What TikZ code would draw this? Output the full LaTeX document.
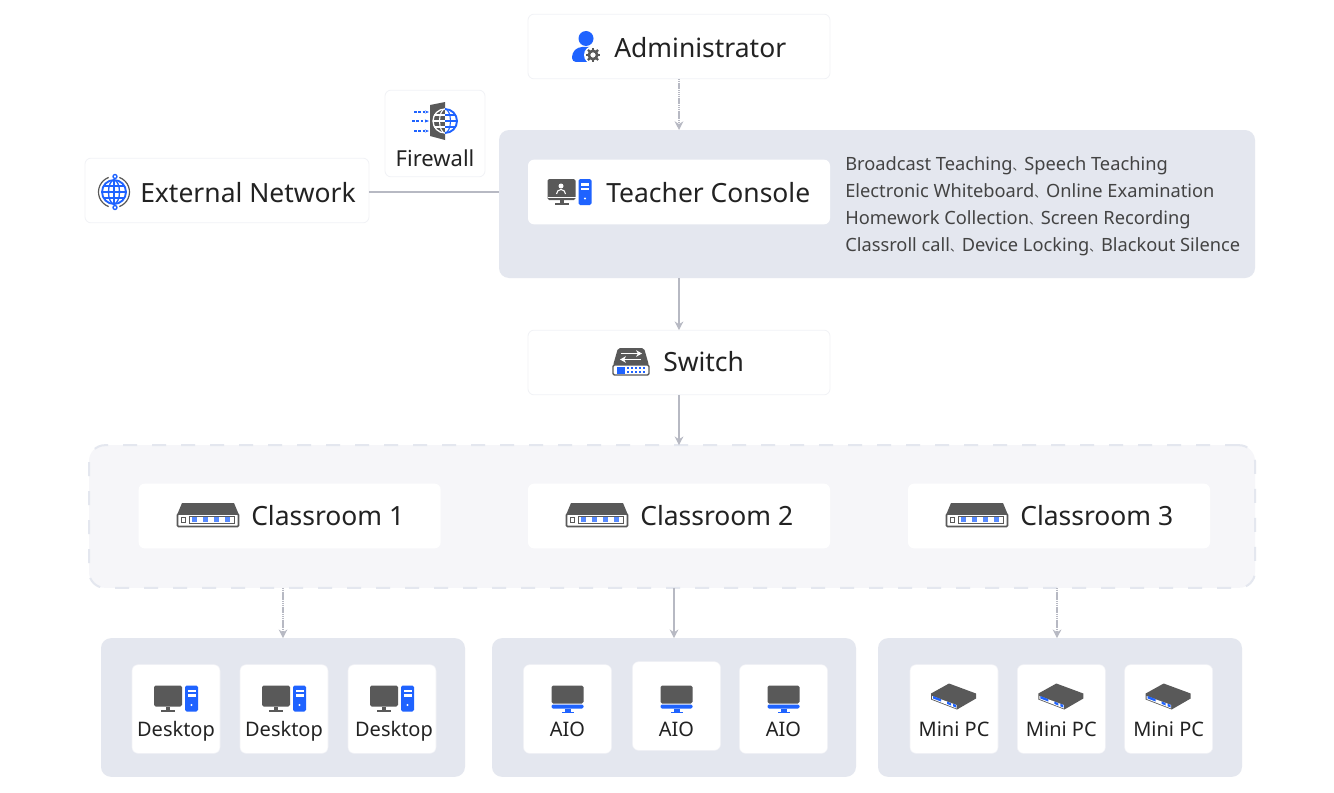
\documentclass[tikz,border=0pt]{standalone}
\usepackage{fontspec}
\setmainfont{Noto Sans}
\newfontfamily\cjk{Noto Sans CJK SC}
\usetikzlibrary{positioning,arrows.meta,calc}
\definecolor{cPanel}{HTML}{E4E7EF}
\definecolor{cRoom}{HTML}{F6F6F9}
\definecolor{cEdge}{HTML}{F1F2F6}
\definecolor{cLine}{HTML}{B7B9C3}
\definecolor{cIcon}{HTML}{595959}
\definecolor{cBlue}{HTML}{1F63FF}
\definecolor{cInk}{HTML}{222222}
\newcommand{\dun}{{\cjk\fontsize{8.8}{10}\selectfont 、}}
\tikzset{
  panel/.style={rounded corners=7.5pt,fill=cPanel,outer sep=0pt},
  card/.style={rounded corners=4.5pt,fill=white,draw=cEdge,line width=.6pt,minimum width=226.5pt,minimum height=48.5pt,outer sep=0pt},
  tile/.style={rounded corners=4.5pt,fill=white,draw=cEdge,line width=.4pt,minimum width=66pt,minimum height=66.5pt,outer sep=0pt},
  lbl/.style={font=\fontsize{19.85}{24}\selectfont,text=cInk,inner sep=0pt,anchor=base west},
  tlbl/.style={font=\fontsize{15}{20}\selectfont,text=cInk,inner sep=0pt,anchor=base},
  edge/.style={-{Stealth[length=6.5pt,width=6.5pt]},line width=1.1pt,draw=cLine},
  dedge/.style={edge,dash pattern=on 1pt off .4pt},
  % icons are drawn round their own centre
  pcicon/.pic={
    \fill[cIcon,rounded corners=1.2pt] (-22,-13) rectangle (6,8);
    \fill[cIcon] (-10,8) rectangle (-6,11);
    \fill[cIcon] (-15,11) rectangle (-1,13);
    \fill[cBlue,rounded corners=1.2pt] (9,-13) rectangle (22,13);
    \fill[white] (11.5,-9) rectangle (19.5,-6.5);
    \fill[white] (11.5,-4.5) rectangle (19.5,-2);
    \fill[white] (15.5,6.5) circle (1.1);
  },
  aioicon/.pic={
    \fill[cIcon,rounded corners=1.2pt] (-16,-13) rectangle (16,5);
    \fill[cBlue,rounded corners=1pt] (-16,6) rectangle (16,10);
    \fill[cBlue] (-3,10) rectangle (3,13);
    \fill[cBlue] (-6,13) rectangle (6,14.5);
  },
  minicon/.pic={
    \fill[cIcon] (-23,-5) -- (-5,-15) -- (22,-5) -- (22,0) -- (3,11) -- (-23,1) -- cycle;
    \fill[white] (-22,-2.5) -- (2.5,6.5) -- (2.5,10) -- (-22,.5) -- cycle;
    \fill[cBlue] (-21,-2.5) -- (-13,.6) -- (-13,3) -- (-21,0) -- cycle;
    \fill[cBlue] (-7,3) -- (-3,4.6) -- (-3,7) -- (-7,5.4) -- cycle;
    \fill[cBlue] (-1,5.2) -- (2,6.4) -- (2,9) -- (-1,7.8) -- cycle;
  },
  hubicon/.pic={
    \fill[cIcon] (-31,0) -- (-26,-12) -- (26,-12) -- (31,0) -- cycle;
    \draw[cIcon,fill=white,line width=1.2pt,rounded corners=.8pt] (-30.5,-1) rectangle (30.5,11.5);
    \draw[cIcon,line width=.6pt] (-27,2) rectangle (-23,7);
    \draw[cIcon,line width=.6pt] (-19,1) rectangle (26,8.5);
    \foreach \px in {-13.5,-2.5,8,19}
      \fill[cBlue!75] (\px-2.5,2) rectangle (\px+2.5,7);
  },
  rackicon/.pic={
    \fill[cIcon,rounded corners=1.5pt] (-18,4) -- (-13,-13.5) -- (13,-13.5) -- (18,4) -- cycle;
    \draw[white,line width=1.3pt,-{Stealth[length=4.5pt,width=5pt]}] (-10,-8) -- (11,-8);
    \draw[white,line width=1.3pt,-{Stealth[length=4.5pt,width=5pt]}] (10,-2) -- (-11,-2);
    \draw[cIcon,fill=white,line width=1pt,rounded corners=1pt] (-18,3.5) rectangle (18,13.5);
    \fill[cBlue] (-14,5) rectangle (-6,12);
    \foreach \px in {-3,1,5,9,13}
      \foreach \py in {6.5,10.5}
        \fill[cBlue] (\px-.9,\py-.9) rectangle (\px+.9,\py+.9);
  },
  adminicon/.pic={
    \fill[cBlue] (0,-8.5) circle (7.5);
    \fill[cBlue,rounded corners=3pt] (-14,15) -- (-14,6) -- (-8,0) -- (8,0) -- (14,6) -- (14,15) -- cycle;
    \fill[white] (7,8) circle (9);
    \draw[cIcon,line width=2pt] (7,8) circle (4.2);
    \foreach \ang in {0,45,...,315}
      \draw[cIcon,line width=1.6pt] ($(7,8)+(\ang:5)$) -- ($(7,8)+(\ang:7.2)$);
  },
  globeicon/.pic={
    \draw[cBlue,line width=1.4pt] (0,0) circle (12);
    \draw[cBlue,line width=1pt] (0,0) ellipse (5.5 and 12);
    \draw[cBlue,line width=1pt] (0,-12) -- (0,12);
    \draw[cBlue,line width=1pt] (-12,0) -- (12,0);
    \draw[cBlue,line width=1pt] (-10.5,-6) -- (10.5,-6);
    \draw[cBlue,line width=1pt] (-10.5,6) -- (10.5,6);
    \draw[cIcon,line width=.9pt] (250:15.5) arc[start angle=250,end angle=110,radius=15.5];
    \draw[cIcon,line width=.9pt] (70:15.5) arc[start angle=70,end angle=-70,radius=15.5];
    \draw[cBlue,fill=white,line width=1pt] (1,-15.5) circle (2);
    \draw[cBlue,fill=white,line width=1pt] (1,15.5) circle (2);
  },
  wallicon/.pic={
    \foreach \py/\qx in {-9/-8,0/-10,10/-8}
      \draw[cBlue,line width=1.2pt,dash pattern=on 2pt off 1.2pt,-{Stealth[length=3pt]}] (\qx-8,\py) -- (-1,\py);
    \fill[cIcon] (0,-16) -- (15,-19) -- (15,19) -- (0,15) -- cycle;
    \draw[white,line width=.8pt] (15,0) ellipse (5.5 and 12);
    \draw[white,line width=.8pt] (4,-6) -- (15,-6) (3,0) -- (15,0) (4,6) -- (15,6);
    \draw[white,line width=1pt] (15,-12) arc[start angle=-90,end angle=-270,radius=12];
    \fill[white] (15,-12) arc[start angle=-90,end angle=90,radius=12] -- cycle;
    \draw[cBlue,line width=.8pt] (15,-12) arc[start angle=-90,end angle=90,x radius=5.5,y radius=12];
    \draw[cBlue,line width=.8pt] (15,-6) -- (25.5,-6) (15,0) -- (27,0) (15,6) -- (25.5,6);
    \draw[cBlue,line width=1.4pt] (15,-12) arc[start angle=-90,end angle=90,radius=12];
  },
}
\begin{document}
\begin{tikzpicture}[x=.75pt,y=-.75pt]
  \useasboundingbox (0,0) rectangle (1334,792);
  \fill[white] (0,0) rectangle (1334,792);

  % upper part
  \node[card] (admin) at (679,46.5) {};
  \node[panel,minimum width=567pt,minimum height=111pt] (teach) at (877,204) {};
  \node[card,fill=white,draw=none] (console) at (679,192) {};
  \node[card,minimum width=213pt] (extnet) at (227,190.5) {};
  \node[card,minimum width=75pt,minimum height=65pt] (wall) at (435,133.5) {};
  \node[card] (switch) at (679,362.5) {};

  % rooms
  \node[rounded corners=12pt,fill=cRoom,draw=cPanel,line width=1.5pt,dash pattern=on 10.5pt off 11.25pt,minimum width=874.5pt,minimum height=107pt,outer sep=0pt] (rooms) at (672,516.5) {};
  \node[card,draw=none] (roomB) at (679,516) {};
  \node[card,draw=none,left=65.5pt of roomB] (roomA) {};
  \node[card,draw=none,right=58.5pt of roomB] (roomC) {};

  % device panels
  \node[panel,minimum width=273pt,minimum height=104pt] (groupA) at (283,707.5) {};
  \node[panel,minimum width=273pt,minimum height=104pt] (groupB) at (674,707.5) {};
  \node[panel,minimum width=273pt,minimum height=104pt] (groupC) at (1060,707.5) {};

  \node[tile] (deskA) at (176,709) {};
  \node[tile,right=15pt of deskA] (deskB) {};
  \node[tile,right=15pt of deskB] (deskC) {};
  \node[tile] (aioA) at (567.5,709) {};
  \node[tile] (aioB) at (676.5,706) {};
  \node[tile] (aioC) at (783.5,709) {};
  \node[tile] (miniA) at (954,709) {};
  \node[tile,right=14.5pt of miniA] (miniB) {};
  \node[tile,right=14.5pt of miniB] (miniC) {};

  % icons
  \pic at (586,47) {adminicon};
  \pic at (430,121) {wallicon};
  \pic at (114,192) {globeicon};
  \pic at (569.5,192) {pcicon};
  \fill[white] (561,186) circle (2.5);
  \draw[white,line width=.8pt] (556.5,194) arc[start angle=180,end angle=360,radius=4.5];
  \fill[white] (548,197) rectangle (576,198);
  \pic at (631,361.5) {rackicon};
  \pic at (208,515) {hubicon};
  \pic at (597,515) {hubicon};
  \pic at (977,515) {hubicon};
  \foreach \nm in {deskA,deskB,deskC,miniA,miniB,miniC}
    \coordinate (\nm I) at ($(\nm.center)+(0,-10.5)$);
  \foreach \nm in {deskA,deskB,deskC}
    \pic at (\nm I) {pcicon};
  \pic at ($(aioA.center)+(0,-10.5)$) {aioicon};
  \pic at ($(aioB.center)+(0,-7.5)$) {aioicon};
  \pic at ($(aioC.center)+(0,-10.5)$) {aioicon};
  \foreach \nm in {miniA,miniB,miniC}
    \pic at (\nm I) {minicon};

  % labels
  \node[lbl] (adminL) at (614,57.5) {Administrator};
  \node[lbl] (consoleL) at (606,202) {Teacher Console};
  \node[lbl] (extnetL) at (140,202) {External Network};
  \node[lbl] (switchL) at (663,371) {Switch};
  \node[lbl] (roomAL) at (251,525) {Classroom 1};
  \node[lbl] (roomBL) at (640,525) {Classroom 2};
  \node[lbl] (roomCL) at (1020,525) {Classroom 3};
  \node[tlbl,font=\fontsize{16.5}{20}\selectfont] (wallL) at (435,166) {Firewall};
  \node[tlbl] at ($(deskA.center)+(0,27)$) {Desktop};
  \node[tlbl] at ($(deskB.center)+(0,27)$) {Desktop};
  \node[tlbl] at ($(deskC.center)+(2,27)$) {Desktop};
  \node[tlbl] at ($(aioA.center)+(0,27)$) {AIO};
  \node[tlbl] at ($(aioB.center)+(0,30)$) {AIO};
  \node[tlbl] at ($(aioC.center)+(0,27)$) {AIO};
  \node[tlbl] at ($(miniA.center)+(0,27)$) {Mini PC};
  \node[tlbl] at ($(miniB.center)+(0,27)$) {Mini PC};
  \node[tlbl] at ($(miniC.center)+(0,27)$) {Mini PC};
  \node[font=\fontsize{13.7}{20.25}\selectfont,text=cInk!85,align=left,inner sep=0pt,anchor=west] (features) at (845,206) {Broadcast Teaching\dun Speech Teaching\\Electronic Whiteboard\dun Online Examination\\Homework Collection\dun Screen Recording\\Classroll call\dun Device Locking\dun Blackout Silence};

  % connectors
  \draw[dedge,xshift=-.75pt] (admin.south) -- (admin.south |- teach.north);
  \draw[edge,xshift=-.75pt] (switch.north |- teach.south) -- (switch.north);
  \draw[edge,xshift=-.75pt] (switch.south) -- (switch.south |- rooms.north);
  \draw[cLine,line width=.8pt] (console.west -| extnet.east) -- (console.west -| teach.west);
  \draw[dedge] (groupA.north |- rooms.south) -- (groupA.north);
  \draw[edge] (groupB.north |- rooms.south) -- (groupB.north);
  \coordinate (dropC) at ($(groupC.north)+(-3,0)$);
  \draw[dedge] (dropC |- rooms.south) -- (dropC);
\end{tikzpicture}
\end{document}
